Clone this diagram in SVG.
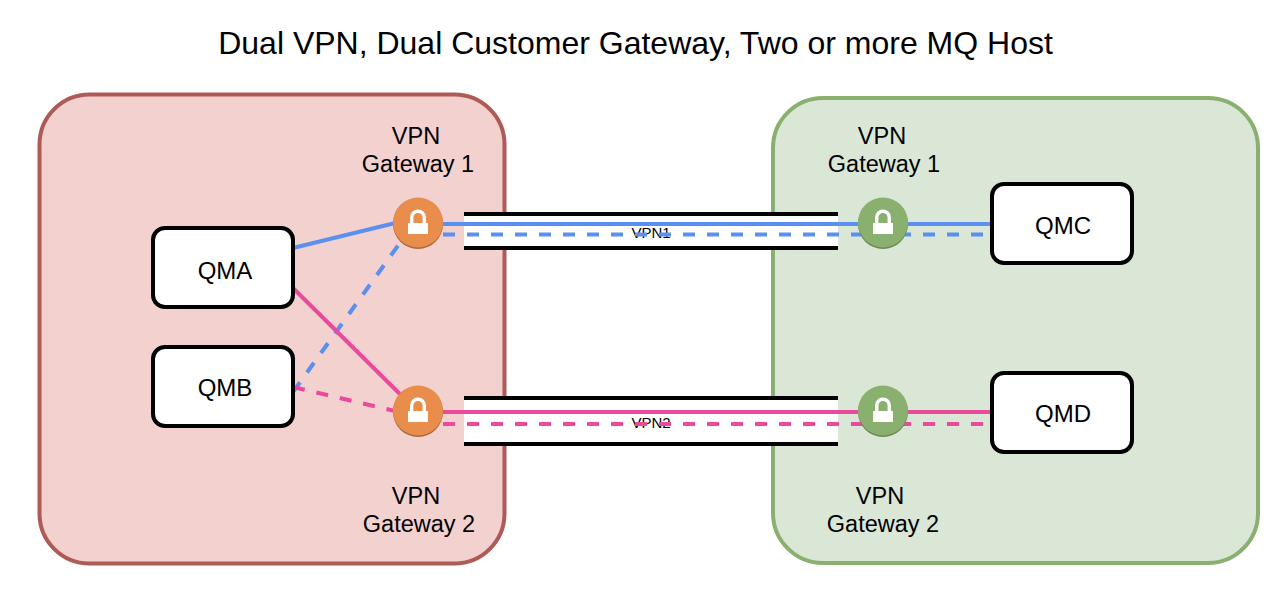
<svg xmlns="http://www.w3.org/2000/svg" width="1286" height="616" viewBox="0 0 1286 616">
<style>
text{font-family:"Liberation Sans",Arial,sans-serif;fill:#000;text-anchor:middle}
.t{font-size:23.500px}
.q{font-size:24px}
.box{fill:#fff;stroke:#000;stroke-width:4}
.l{font-size:15px}
.c{fill:none;stroke-width:4}
.d{stroke-dasharray:12 12}
.b{stroke:#5b8ff0}
.p{stroke:#ea4a9c}
.bar{fill:#000}
.lk{fill:#fff}
.sh{fill:none;stroke:#fff;stroke-width:3.400}
</style>
<defs>
<g id="lock">
<rect x="-10" y="1" width="20" height="11" class="lk"/>
<path d="M-6.300 2V-4.500a6.300 6.300 0 0 1 12.600 0V2" class="sh"/>
</g>
</defs>
<rect width="1286" height="616" fill="#fff"/>
<text x="635.500" y="54" style="font-size:32px">Dual VPN, Dual Customer Gateway, Two or more MQ Host</text>
<g id="site-left"><rect x="39.500" y="94.500" width="465" height="469" rx="50" fill="#f3d1cf" stroke="#ae5a57" stroke-width="4"/></g>
<g id="site-right"><rect x="773" y="98" width="485" height="465" rx="50" fill="#dae7d6" stroke="#8ab06f" stroke-width="4"/></g>
<g id="vpn1">
<rect x="464" y="212" width="374" height="38" fill="#fff"/>
<rect x="464" y="212" width="374" height="4" class="bar"/>
<rect x="464" y="246" width="374" height="4" class="bar"/>
<text x="651" y="238" class="l">VPN1</text>
</g>
<g id="vpn2">
<rect x="464" y="396" width="374" height="50" fill="#fff"/>
<rect x="464" y="396" width="374" height="4" class="bar"/>
<rect x="464" y="442" width="374" height="4" class="bar"/>
<text x="651" y="428" class="l">VPN2</text>
</g>
<g id="connectors">
<path class="c b" d="M293 248L393 223.500L418 224H992"/>
<path class="c b d" d="M293 392L402 240"/>
<path class="c b d" d="M443 234.500H984"/>
<path class="c p" d="M293 288L418 412H992"/>
<path class="c p d" d="M293 387L395 411"/>
<path class="c p d" d="M443 424H984"/>
</g>
<g id="gw-left-1"><circle cx="418" cy="224" r="25" fill="#a9693d"/><circle cx="418" cy="222.500" r="25" fill="#e88d4b"/><use href="#lock" x="418" y="222"/></g>
<g id="gw-left-2"><circle cx="418" cy="412" r="25" fill="#a9693d"/><circle cx="418" cy="410.500" r="25" fill="#e88d4b"/><use href="#lock" x="418" y="410"/></g>
<g id="gw-right-1"><circle cx="883" cy="224" r="25" fill="#6a8755"/><circle cx="883" cy="222.500" r="25" fill="#8ab06f"/><use href="#lock" x="883" y="222"/></g>
<g id="gw-right-2"><circle cx="883" cy="412" r="25" fill="#6a8755"/><circle cx="883" cy="410.500" r="25" fill="#8ab06f"/><use href="#lock" x="883" y="410"/></g>
<g id="qma"><rect x="153" y="228" width="140" height="79" rx="12" class="box"/><text x="225" y="279" class="q">QMA</text></g>
<g id="qmb"><rect x="153" y="347" width="140" height="79" rx="12" class="box"/><text x="225" y="396" class="q">QMB</text></g>
<g id="qmc"><rect x="992" y="184" width="140" height="79" rx="12" class="box"/><text x="1063" y="234" class="q">QMC</text></g>
<g id="qmd"><rect x="992" y="373" width="140" height="79" rx="12" class="box"/><text x="1063" y="422" class="q">QMD</text></g>
<g id="labels">
<text x="416" y="144" class="t">VPN</text><text x="418" y="172" class="t">Gateway 1</text>
<text x="882" y="144" class="t">VPN</text><text x="884" y="172" class="t">Gateway 1</text>
<text x="416" y="504" class="t">VPN</text><text x="419" y="532" class="t">Gateway 2</text>
<text x="880" y="504" class="t">VPN</text><text x="883" y="532" class="t">Gateway 2</text>
</g>
</svg>
